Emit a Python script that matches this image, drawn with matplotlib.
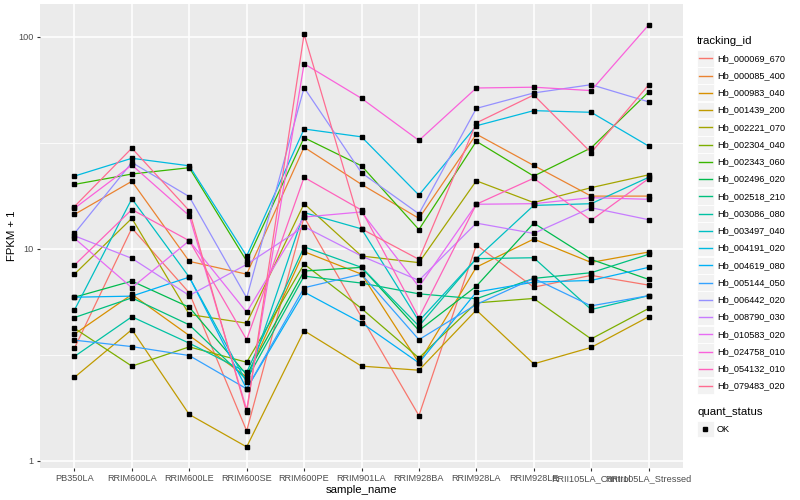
import matplotlib
matplotlib.use("Agg")
import matplotlib.pyplot as plt
from matplotlib.patches import Rectangle
from matplotlib.lines import Line2D
import numpy as np

plt.rcParams['font.family'] = ['Liberation Sans', 'DejaVu Sans']

samples = ["PB350LA", "RRIM600LA", "RRIM600LE", "RRIM600SE", "RRIM600PE",
           "RRIM901LA", "RRIM928BA", "RRIM928LA", "RRIM928LE",
           "RRII105LA_Control", "RRII105LA_Stressed"]

tracking_ids = ["Hb_000069_670", "Hb_000085_400", "Hb_000983_040", "Hb_001439_200",
                "Hb_002221_070", "Hb_002304_040", "Hb_002343_060", "Hb_002496_020",
                "Hb_002518_210", "Hb_003086_080", "Hb_003497_040", "Hb_004191_020",
                "Hb_004619_080", "Hb_005144_050", "Hb_006442_020", "Hb_008790_030",
                "Hb_010583_020", "Hb_024758_010", "Hb_054132_010", "Hb_079483_020"]

colors = ["#F8766D", "#EA8331", "#D89000", "#C09B00", "#A3A500", "#7CAE00",
          "#39B600", "#00BB4E", "#00BF7D", "#00C1A3", "#00BFC4", "#00BAE0",
          "#00B0F6", "#35A2FF", "#9590FF", "#C77CFF", "#E76BF3", "#FA62DB",
          "#FF62BC", "#FF6C91"]

# FPKM + 1, one list per tracking_id, in sample order
fpkm = {
    "Hb_000069_670": [3.39, 12.5, 6.19, 1.38, 14.1, 4.75, 1.63, 10.4, 6.58, 7.48, 6.73],
    "Hb_000085_400": [14.5, 20.8, 8.71, 7.58, 30.1, 20.1, 13.9, 34.7, 24.7, 17.7, 17.7],
    "Hb_000983_040": [3.95, 6.08, 3.89, 2.48, 9.68, 7.58, 2.89, 8.18, 11.1, 8.61, 9.64],
    "Hb_001439_200": [2.47, 4.15, 1.65, 1.16, 4.10, 2.79, 2.67, 5.13, 2.86, 3.42, 4.77],
    "Hb_002221_070": [7.58, 13.9, 4.89, 4.45, 16.3, 9.23, 8.59, 20.9, 16.5, 19.4, 22.3],
    "Hb_002304_040": [4.21, 2.79, 3.44, 2.91, 8.46, 5.22, 3.05, 5.55, 5.82, 3.75, 5.22],
    "Hb_002343_060": [20.1, 22.5, 24.1, 8.74, 33.4, 24.6, 12.3, 32.1, 22.0, 29.9, 54.8],
    "Hb_002496_020": [5.90, 7.03, 5.29, 2.54, 7.84, 8.16, 4.11, 6.65, 13.2, 8.90, 7.16],
    "Hb_002518_210": [4.73, 5.86, 4.37, 2.41, 7.42, 6.88, 6.12, 5.80, 7.24, 7.70, 9.40],
    "Hb_003086_080": [3.10, 4.77, 3.58, 2.61, 10.2, 8.16, 4.31, 8.97, 9.06, 5.16, 6.00],
    "Hb_003497_040": [5.13, 17.2, 7.34, 2.34, 14.8, 12.4, 4.55, 8.97, 16.0, 16.3, 21.7],
    "Hb_004191_020": [22.0, 26.7, 24.6, 9.23, 36.7, 33.7, 17.9, 38.0, 44.8, 44.0, 30.5],
    "Hb_004619_080": [5.90, 5.97, 7.34, 2.18, 6.24, 4.47, 2.89, 6.24, 6.95, 7.08, 8.16],
    "Hb_005144_050": [3.70, 3.45, 3.13, 2.18, 6.54, 7.58, 3.72, 5.45, 7.24, 5.37, 6.00],
    "Hb_006442_020": [11.8, 25.5, 17.6, 5.86, 57.5, 22.8, 14.6, 45.9, 54.3, 59.4, 49.3],
    "Hb_008790_030": [11.5, 9.00, 6.01, 8.43, 12.7, 9.23, 7.08, 13.2, 11.8, 15.6, 13.7],
    "Hb_010583_020": [11.2, 6.54, 10.9, 5.01, 14.1, 14.9, 6.61, 16.2, 16.3, 17.4, 17.1],
    "Hb_024758_010": [15.5, 24.8, 14.3, 1.74, 74.6, 51.2, 32.4, 57.3, 57.8, 55.7, 113.5],
    "Hb_054132_010": [8.36, 15.3, 10.9, 3.72, 21.7, 15.2, 4.72, 16.2, 21.5, 13.6, 21.4],
    "Hb_079483_020": [15.8, 29.8, 15.1, 1.69, 102.8, 12.4, 8.90, 39.2, 53.1, 28.4, 59.2],
}

W, H = 800, 500
fig = plt.figure(figsize=(8, 5), dpi=100)
fig.patch.set_facecolor("white")

# panel in pixel units
px_l, px_r, px_t, px_b = 40, 683, 4, 468
ax = fig.add_axes([px_l / W, 1 - px_b / H, (px_r - px_l) / W, (px_b - px_t) / H])
ax.set_facecolor("#EBEBEB")
for s in ax.spines.values():
    s.set_visible(False)

x = np.arange(len(samples))
for tid, col in zip(tracking_ids, colors):
    ax.plot(x, fpkm[tid], color=col, lw=0.9, zorder=2)
for tid in tracking_ids:
    ax.plot(x, fpkm[tid], ls="none", marker="s", ms=2.6, color="black", zorder=3)

allv = np.concatenate([fpkm[t] for t in tracking_ids])
lo, hi = np.log10(allv.min()), np.log10(allv.max())
pad = 0.05 * (hi - lo)
ax.set_yscale("log")
ax.set_ylim(10 ** (lo - pad), 10 ** (hi + pad))
ax.set_xlim(-0.6, len(samples) - 0.4)

ax.set_yticks([1, 10, 100])
ax.set_yticklabels(["1", "10", "100"])
ax.set_yticks([10 ** 0.5, 10 ** 1.5], minor=True)
ax.yaxis.set_minor_formatter(plt.NullFormatter())
ax.set_xticks(x)
ax.set_xticklabels(samples)

ax.grid(which="major", color="white", lw=1.1, zorder=0)
ax.grid(which="minor", axis="y", color="white", lw=0.55, zorder=0)
ax.set_axisbelow(True)
ax.tick_params(which="major", length=2.5, width=0.8, color="#333333",
               labelsize=6.6, labelcolor="#4D4D4D", pad=2)
ax.tick_params(which="minor", length=0)

ax.set_xlabel("sample_name", fontsize=8.2, labelpad=1.5)
ax.set_ylabel("FPKM + 1", fontsize=8.2)
ax.yaxis.set_label_coords((17 - px_l) / (px_r - px_l), 0.5)

# legend drawn by hand, ggplot style
def fx(p):
    return p / W

def fy(p):
    return 1 - p / H

fig.text(fx(697), fy(40.5), "tracking_id", fontsize=8.2, va="center", ha="left")
row0, step = 58.3, 17.25
for i, (tid, col) in enumerate(zip(tracking_ids, colors)):
    yc = row0 + step * i
    fig.add_artist(Rectangle((fx(697), fy(yc + 8.4)), 16.8 / W, 16.8 / H,
                             transform=fig.transFigure, facecolor="#F2F2F2",
                             edgecolor="white", lw=0.6))
    fig.add_artist(Line2D([fx(699), fx(712)], [fy(yc), fy(yc)],
                          transform=fig.transFigure, color=col, lw=1.0))
    fig.text(fx(717), fy(yc), tid, fontsize=6.6, va="center", ha="left")

fig.text(fx(697), fy(412), "quant_status", fontsize=8.2, va="center", ha="left")
fig.add_artist(Rectangle((fx(697), fy(429 + 8.4)), 16.8 / W, 16.8 / H,
                         transform=fig.transFigure, facecolor="#F2F2F2",
                         edgecolor="white", lw=0.6))
fig.add_artist(Line2D([fx(705.4)], [fy(429)], transform=fig.transFigure,
                      marker="s", ms=2.6, color="black", ls="none"))
fig.text(fx(717), fy(429), "OK", fontsize=6.6, va="center", ha="left")

fig.savefig("out.png", dpi=100)
